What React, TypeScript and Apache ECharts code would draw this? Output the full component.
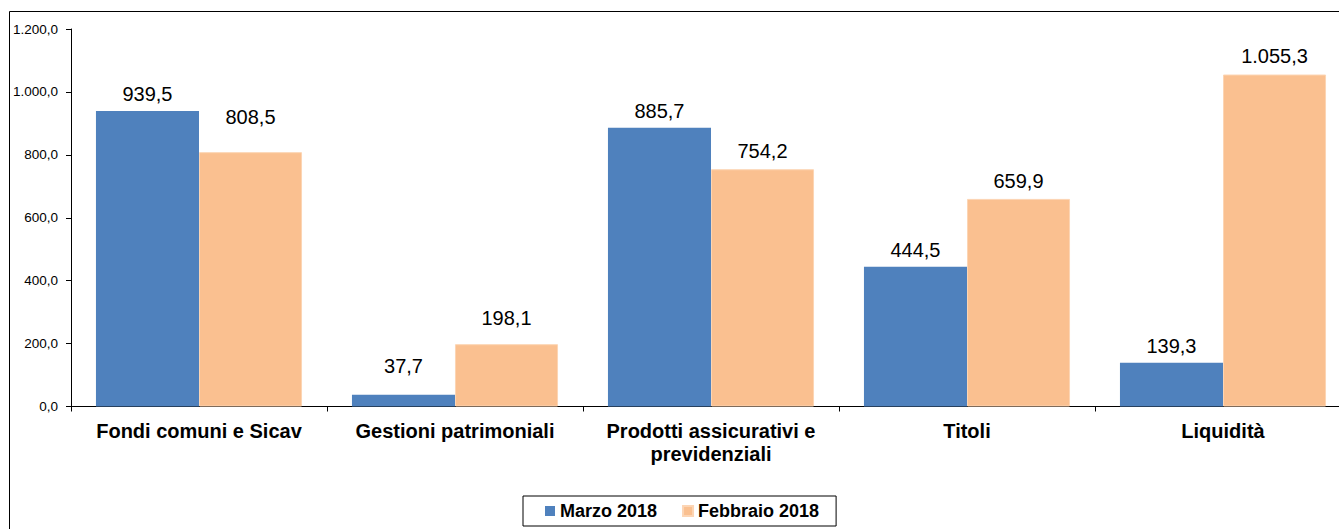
import React, { useEffect, useRef } from "react";
import * as echarts from "echarts";

const categories = [
  "Fondi comuni e Sicav",
  "Gestioni patrimoniali",
  "Prodotti assicurativi e\nprevidenziali",
  "Titoli",
  "Liquidità",
];
const seriesNames = ["Marzo 2018", "Febbraio 2018"];
const marzo = [939.5, 37.7, 885.7, 444.5, 139.3];
const febbraio = [808.5, 198.1, 754.2, 659.9, 1055.3];
// extra upward shift of individual value labels (px), as placed in the original
const marzoLabelLift = [0, 12, 0, 0, 0];
const febbraioLabelLift = [18, 9, 1, 1, 2];

const FONT = "'Liberation Sans', Arial, Helvetica, sans-serif";

function fmt(v: number): string {
  const s = Math.abs(v).toFixed(1);
  const [intPart, dec] = s.split(".");
  const withDots = intPart.replace(/\B(?=(\d{3})+(?!\d))/g, ".");
  return (v < 0 ? "-" : "") + withDots + "," + dec;
}

export default function App() {
  const ref = useRef<HTMLDivElement>(null);
  useEffect(() => {
    if (!ref.current) return;
    const chart = echarts.init(ref.current, undefined, { renderer: "svg" });
    const mk = (vals: number[], lifts: number[]) =>
      vals.map((v, i) => ({ value: v, label: { offset: [0, -lifts[i]] } }));
    chart.setOption({
      animation: false,
      backgroundColor: "#fff",
      textStyle: { fontFamily: FONT },
      graphic: [
        {
          type: "rect",
          shape: { x: 1.5, y: 3.5, width: 3000, height: 3000 },
          style: { fill: "none", stroke: "#000", lineWidth: 1 },
          silent: true,
          z: 0,
        },
      ],
      grid: { left: 63, top: 21, width: 1280, bottom: 122.5, containLabel: false },
      legend: {
        data: seriesNames,
        left: 515,
        top: 488,
        icon: "rect",
        itemWidth: 10,
        itemHeight: 10,
        itemGap: 25,
        borderColor: "#000",
        borderWidth: 1,
        padding: [6, 17, 6, 22],
        textStyle: { fontSize: 18, fontWeight: "bold", color: "#000", fontFamily: FONT },
      },
      xAxis: {
        type: "category",
        data: categories,
        axisLine: { show: true, lineStyle: { color: "#000", width: 1 } },
        axisTick: { show: true, length: 5, lineStyle: { color: "#000" } },
        axisLabel: {
          interval: 0,
          fontSize: 20,
          fontWeight: "bold",
          color: "#000",
          margin: 13,
          lineHeight: 23,
          fontFamily: FONT,
        },
        splitLine: { show: false },
      },
      yAxis: {
        type: "value",
        min: 0,
        max: 1200,
        interval: 200,
        axisLine: { show: true, lineStyle: { color: "#000", width: 1 } },
        axisTick: { show: true, length: 5, lineStyle: { color: "#000" } },
        axisLabel: {
          fontSize: 13.5,
          color: "#000",
          margin: 13,
          fontFamily: FONT,
          formatter: (v: number) => fmt(v),
        },
        splitLine: { show: false },
      },
      series: [
        {
          name: seriesNames[0],
          type: "bar",
          data: mk(marzo, marzoLabelLift),
          barGap: 0,
          barCategoryGap: "19.5%",
          itemStyle: { color: "#4F81BD" },
          label: {
            show: true,
            position: "top",
            distance: 7,
            fontSize: 20,
            color: "#000",
            fontFamily: FONT,
            formatter: (p: any) => fmt(p.value),
          },
        },
        {
          name: seriesNames[1],
          type: "bar",
          data: mk(febbraio, febbraioLabelLift),
          barGap: 0,
          barCategoryGap: "19.5%",
          itemStyle: { color: "#FAC090", borderColor: "#FCD5B4", borderWidth: 1 },
          label: {
            show: true,
            position: "top",
            distance: 7,
            fontSize: 20,
            color: "#000",
            fontFamily: FONT,
            formatter: (p: any) => fmt(p.value),
          },
        },
      ],
    });
    return () => chart.dispose();
  }, []);
  return (
    <div
      style={{
        position: "fixed",
        left: 8,
        top: 8,
        width: 1331,
        height: 521,
        overflow: "hidden",
      }}
    >
      <div ref={ref} style={{ width: 1380, height: 521 }} />
    </div>
  );
}
